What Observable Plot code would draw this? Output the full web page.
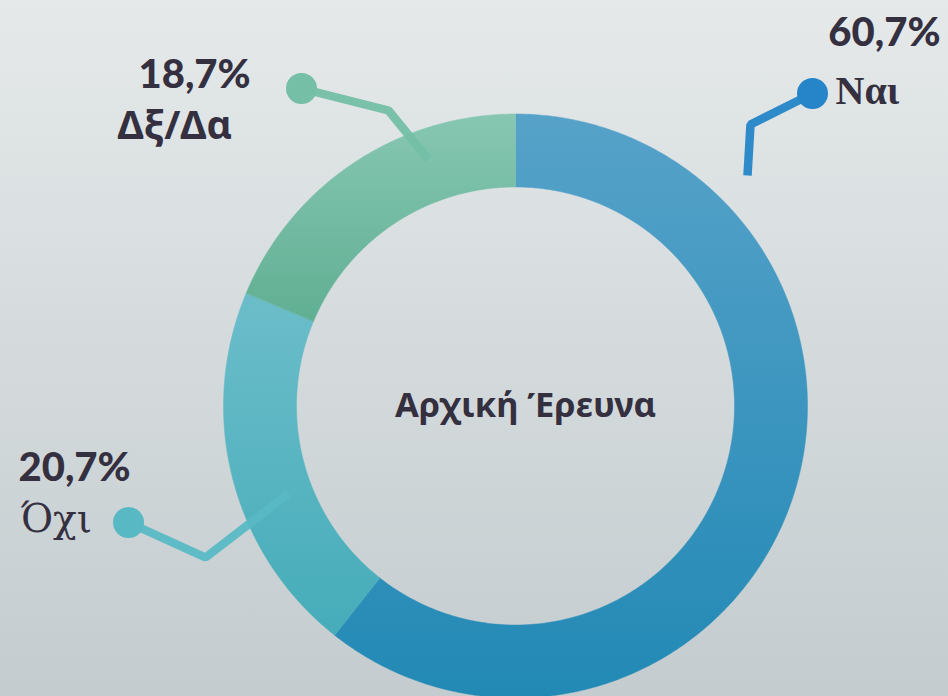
<!DOCTYPE html>
<html>
<head>
<meta charset="utf-8">
<script src="https://cdn.jsdelivr.net/npm/d3@7"></script>
<script src="https://cdn.jsdelivr.net/npm/@observablehq/plot@0.6"></script>
<style>
  html, body { margin: 0; padding: 0; width: 948px; height: 696px; overflow: hidden;
    background: linear-gradient(#e5e9ea, #c4cccf); }
  #chart svg { display: block; }
</style>
</head>
<body>
<div id="chart"></div>
<script>
// ---- data ----
const categories = ["Ναι", "Όχι", "Δξ/Δα"];
const values = [60.7, 20.7, 18.7];
const percentLabels = ["60,7%", "20,7%", "18,7%"];
const centerTitle = "Αρχική Έρευνα";

// ---- styles / layout ----
const W = 948, H = 696;
const cx = 515, cy = 405.5, R = 292, r = 219;
const sliceGradients = [
  ["#56a2c9", "#2289b5"],
  ["#6cbdca", "#46acb9"],
  ["#87c7b2", "#60af93"]
];
const leaderColors = ["#2585c8", "#58b9c4", "#74bfa6"];
const leaderPaths = [
  [[812, 93], [750, 124], [747, 175]],
  [[128, 522], [205, 557], [288, 493]],
  [[301, 88], [388, 110], [428, 159]]
];
const pctPos = [[940, 45, "end"], [18, 480, "start"], [138, 87, "start"]];
const catPos = [[835, 103, "start", "'Liberation Serif', serif", 40, 700],
                [20, 531, "start", "'DejaVu Serif', serif", 39, 400],
                [117, 138, "start", "'Noto Sans', sans-serif", 39, 700]];
const textColor = "#35303f";

// ---- build slice polygons from values ----
const pie = d3.pie().sort(null).startAngle(0).endAngle(2 * Math.PI)(values);
const slices = pie.map((p, i) => {
  const pts = [];
  const n = Math.max(8, Math.ceil((p.endAngle - p.startAngle) / 0.01));
  for (let k = 0; k <= n; k++) {
    const a = p.startAngle + (p.endAngle - p.startAngle) * k / n;
    pts.push({x: cx + R * Math.sin(a), y: cy - R * Math.cos(a), i});
  }
  for (let k = n; k >= 0; k--) {
    const a = p.startAngle + (p.endAngle - p.startAngle) * k / n;
    pts.push({x: cx + r * Math.sin(a), y: cy - r * Math.cos(a), i});
  }
  return pts;
});

const marks = [];
slices.forEach((pts, i) => {
  marks.push(Plot.line(pts, {x: "x", y: "y", curve: "linear-closed",
    fill: `url(#slice${i})`, stroke: `url(#slice${i})`, strokeWidth: 0.5}));
});
leaderPaths.forEach((path, i) => {
  const d = path.map(([x, y]) => ({x, y}));
  marks.push(Plot.line(d, {x: "x", y: "y", stroke: leaderColors[i], strokeWidth: 8.5,
    strokeLinejoin: "miter", strokeLinecap: "butt", strokeOpacity: 0.95}));
  marks.push(Plot.dot([d[0]], {x: "x", y: "y", r: 15.5, fill: leaderColors[i], stroke: null}));
});
categories.forEach((c, i) => {
  const [px, py, pa] = pctPos[i];
  marks.push(Plot.text([percentLabels[i]], {x: () => px, y: () => py, text: d => d,
    textAnchor: pa, lineAnchor: "bottom", fontSize: 40, fontWeight: 900,
    fontFamily: "Lato, sans-serif", fill: textColor}));
  const [qx, qy, qa, ff, fs, fw] = catPos[i];
  marks.push(Plot.text([c], {x: () => qx, y: () => qy, text: d => d,
    textAnchor: qa, lineAnchor: "bottom", fontSize: fs, fontWeight: fw,
    fontFamily: ff, fill: textColor}));
});
marks.push(Plot.text([centerTitle], {x: () => 525, y: () => 416, text: d => d,
  textAnchor: "middle", lineAnchor: "bottom", fontSize: 34.5, fontWeight: 700,
  fontFamily: "'Noto Sans', sans-serif", fill: textColor}));

const chart = Plot.plot({
  width: W, height: H,
  marginTop: 0, marginRight: 0, marginBottom: 0, marginLeft: 0,
  x: {domain: [0, W], range: [0, W], axis: null},
  y: {domain: [0, H], range: [0, H], axis: null},
  style: {background: "transparent", overflow: "visible"},
  marks
});

// gradients
const svg = d3.select(chart);
const defs = svg.insert("defs", ":first-child");
sliceGradients.forEach(([top, bottom], i) => {
  const g = defs.append("linearGradient").attr("id", `slice${i}`)
    .attr("x1", 0).attr("y1", 0).attr("x2", 0).attr("y2", 1);
  g.append("stop").attr("offset", "0%").attr("stop-color", top);
  g.append("stop").attr("offset", "100%").attr("stop-color", bottom);
});

document.getElementById("chart").appendChild(chart);
</script>
</body>
</html>
